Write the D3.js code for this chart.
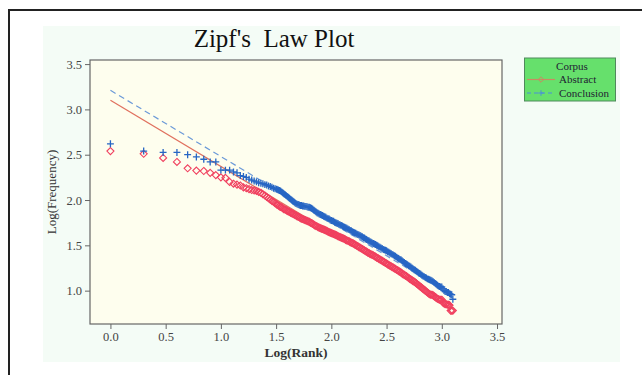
<!DOCTYPE html>
<html lang="en">
<head>
<meta charset="UTF-8">
<title>Zipf's Law Plot</title>
<script src="https://d3js.org/d3.v7.min.js"></script>
<style>
  body { margin: 0; background: #ffffff; }
  svg { display: block; }
  text { font-family: "Liberation Serif", "Times New Roman", serif; }
</style>
</head>
<body>
<svg width="642" height="375"></svg>
<script>
// Abstract corpus: [log10(rank), log10(frequency)]
const abstractPoints = [
  [0, 2.54], [0.301, 2.51], [0.477, 2.465], [0.602, 2.42], [0.699, 2.35], [0.778, 2.325], [0.845, 2.32], [0.903, 2.30], [0.954, 2.275],
  [1.0, 2.25], [1.041, 2.245], [1.079, 2.20], [1.114, 2.18], [1.146, 2.17], [1.176, 2.16], [1.204, 2.14], [1.23, 2.13], [1.255, 2.12],
  [1.279, 2.11], [1.301, 2.105], [1.322, 2.10], [1.342, 2.09], [1.362, 2.08], [1.38, 2.065], [1.398, 2.05], [1.415, 2.035], [1.431, 2.02],
  [1.447, 2.005], [1.462, 1.99], [1.477, 1.98], [1.491, 1.965], [1.505, 1.95],
  [1.51, 1.95], [1.52, 1.94], [1.53, 1.93], [1.54, 1.925], [1.55, 1.92], [1.56, 1.91], [1.57, 1.90], [1.58, 1.895], [1.59, 1.89], [1.60, 1.88],
  [1.61, 1.875], [1.62, 1.87], [1.63, 1.86], [1.64, 1.855], [1.65, 1.85], [1.66, 1.845], [1.67, 1.835], [1.68, 1.83], [1.69, 1.82], [1.70, 1.815],
  [1.71, 1.81], [1.72, 1.80], [1.73, 1.795], [1.74, 1.79], [1.75, 1.785], [1.76, 1.78], [1.77, 1.775], [1.78, 1.77], [1.79, 1.765], [1.80, 1.76],
  [1.81, 1.75], [1.82, 1.745], [1.83, 1.74], [1.84, 1.73], [1.85, 1.72], [1.86, 1.715], [1.87, 1.71], [1.88, 1.70], [1.89, 1.695], [1.90, 1.69],
  [1.91, 1.685], [1.92, 1.68], [1.93, 1.675], [1.94, 1.67], [1.95, 1.665], [1.96, 1.66], [1.97, 1.65], [1.98, 1.645], [1.99, 1.64], [2.00, 1.635],
  [2.01, 1.63], [2.02, 1.625], [2.03, 1.62], [2.04, 1.615], [2.05, 1.61], [2.06, 1.60], [2.07, 1.595], [2.08, 1.59], [2.09, 1.585], [2.10, 1.58],
  [2.11, 1.575], [2.12, 1.57], [2.13, 1.56], [2.14, 1.555], [2.15, 1.55], [2.16, 1.545], [2.17, 1.535], [2.18, 1.53], [2.19, 1.525], [2.20, 1.52],
  [2.21, 1.51], [2.22, 1.505], [2.23, 1.495], [2.24, 1.49], [2.25, 1.48], [2.26, 1.475], [2.27, 1.465], [2.28, 1.46], [2.29, 1.45], [2.30, 1.445],
  [2.31, 1.435], [2.32, 1.43], [2.33, 1.42], [2.34, 1.415], [2.35, 1.405], [2.36, 1.40], [2.37, 1.395], [2.38, 1.39], [2.39, 1.38], [2.40, 1.375],
  [2.41, 1.365], [2.42, 1.36], [2.43, 1.35], [2.44, 1.345], [2.45, 1.335], [2.46, 1.33], [2.47, 1.32], [2.48, 1.315], [2.49, 1.305], [2.50, 1.30],
  [2.51, 1.29], [2.52, 1.285], [2.53, 1.275], [2.54, 1.27], [2.55, 1.26], [2.56, 1.255], [2.57, 1.245], [2.58, 1.24], [2.59, 1.23], [2.60, 1.225],
  [2.61, 1.215], [2.62, 1.21], [2.63, 1.20], [2.64, 1.19], [2.65, 1.18], [2.66, 1.175], [2.67, 1.165], [2.68, 1.16], [2.69, 1.15], [2.70, 1.14],
  [2.71, 1.13], [2.72, 1.125], [2.73, 1.115], [2.74, 1.105], [2.75, 1.10], [2.76, 1.09], [2.77, 1.08], [2.78, 1.07], [2.79, 1.06], [2.80, 1.05],
  [2.81, 1.04], [2.82, 1.03], [2.83, 1.02], [2.84, 1.01], [2.85, 1.00], [2.86, 0.99], [2.87, 0.98], [2.88, 0.97], [2.89, 0.96], [2.90, 0.955],
  [2.91, 0.955], [2.92, 0.95], [2.93, 0.94], [2.94, 0.93], [2.95, 0.92], [2.96, 0.91], [2.97, 0.905], [2.98, 0.90], [2.99, 0.90], [3.00, 0.90],
  [3.01, 0.87], [3.02, 0.86], [3.03, 0.85], [3.04, 0.85], [3.05, 0.845], [3.06, 0.845], [3.07, 0.84], [3.08, 0.78], [3.09, 0.78], [3.10, 0.78]
];

// Conclusion corpus
const conclusionPoints = [
  [0, 2.62], [0.301, 2.54], [0.477, 2.525], [0.602, 2.525], [0.699, 2.50], [0.778, 2.475], [0.845, 2.45], [0.903, 2.42], [0.954, 2.42],
  [1.0, 2.33], [1.041, 2.33], [1.079, 2.33], [1.114, 2.31], [1.146, 2.30], [1.176, 2.27], [1.204, 2.26], [1.23, 2.25], [1.255, 2.23],
  [1.279, 2.22], [1.301, 2.21], [1.322, 2.20], [1.342, 2.19], [1.362, 2.185], [1.38, 2.18], [1.398, 2.17], [1.415, 2.165], [1.431, 2.155],
  [1.447, 2.15], [1.462, 2.14], [1.477, 2.13], [1.491, 2.125], [1.505, 2.12],
  [1.51, 2.115], [1.52, 2.11], [1.53, 2.105], [1.54, 2.10], [1.55, 2.09], [1.56, 2.08], [1.57, 2.07], [1.58, 2.06], [1.59, 2.05], [1.60, 2.04],
  [1.61, 2.03], [1.62, 2.02], [1.63, 2.01], [1.64, 2.00], [1.65, 1.99], [1.66, 1.98], [1.67, 1.97], [1.68, 1.96], [1.69, 1.955], [1.70, 1.95],
  [1.71, 1.945], [1.72, 1.94], [1.73, 1.94], [1.74, 1.935], [1.75, 1.935], [1.76, 1.93], [1.77, 1.93], [1.78, 1.925], [1.79, 1.92], [1.80, 1.92],
  [1.81, 1.915], [1.82, 1.91], [1.83, 1.90], [1.84, 1.89], [1.85, 1.88], [1.86, 1.87], [1.87, 1.86], [1.88, 1.855], [1.89, 1.845], [1.90, 1.84],
  [1.91, 1.835], [1.92, 1.83], [1.93, 1.82], [1.94, 1.815], [1.95, 1.81], [1.96, 1.80], [1.97, 1.795], [1.98, 1.79], [1.99, 1.78], [2.00, 1.775],
  [2.01, 1.77], [2.02, 1.765], [2.03, 1.755], [2.04, 1.75], [2.05, 1.745], [2.06, 1.74], [2.07, 1.73], [2.08, 1.725], [2.09, 1.72], [2.10, 1.715],
  [2.11, 1.705], [2.12, 1.70], [2.13, 1.695], [2.14, 1.69], [2.15, 1.68], [2.16, 1.675], [2.17, 1.665], [2.18, 1.66], [2.19, 1.65], [2.20, 1.645],
  [2.21, 1.64], [2.22, 1.635], [2.23, 1.625], [2.24, 1.62], [2.25, 1.615], [2.26, 1.61], [2.27, 1.60], [2.28, 1.595], [2.29, 1.585], [2.30, 1.58],
  [2.31, 1.57], [2.32, 1.565], [2.33, 1.555], [2.34, 1.55], [2.35, 1.54], [2.36, 1.535], [2.37, 1.525], [2.38, 1.52], [2.39, 1.515], [2.40, 1.51],
  [2.41, 1.50], [2.42, 1.495], [2.43, 1.485], [2.44, 1.48], [2.45, 1.47], [2.46, 1.465], [2.47, 1.455], [2.48, 1.45], [2.49, 1.445], [2.50, 1.44],
  [2.51, 1.43], [2.52, 1.425], [2.53, 1.415], [2.54, 1.41], [2.55, 1.40], [2.56, 1.395], [2.57, 1.385], [2.58, 1.38], [2.59, 1.37], [2.60, 1.36],
  [2.61, 1.355], [2.62, 1.345], [2.63, 1.34], [2.64, 1.33], [2.65, 1.32], [2.66, 1.31], [2.67, 1.30], [2.68, 1.295], [2.69, 1.285], [2.70, 1.275],
  [2.71, 1.27], [2.72, 1.26], [2.73, 1.25], [2.74, 1.24], [2.75, 1.23], [2.76, 1.225], [2.77, 1.215], [2.78, 1.205], [2.79, 1.195], [2.80, 1.19],
  [2.81, 1.18], [2.82, 1.17], [2.83, 1.16], [2.84, 1.155], [2.85, 1.145], [2.86, 1.14], [2.87, 1.13], [2.88, 1.125], [2.89, 1.12], [2.90, 1.115],
  [2.91, 1.11], [2.92, 1.10], [2.93, 1.09], [2.94, 1.08], [2.95, 1.07], [2.96, 1.06], [2.97, 1.05], [2.98, 1.045], [2.99, 1.04], [3.00, 1.04],
  [3.01, 1.02], [3.02, 1.00], [3.03, 0.99], [3.04, 0.99], [3.05, 0.98], [3.06, 0.98], [3.07, 0.965], [3.08, 0.96], [3.09, 0.955], [3.10, 0.905]
];

// fitted Zipf lines: end points [x, y]
const abstractFit = [[0, 3.10], [3.10, 0.837]];
const conclusionFit = [[0, 3.21], [3.10, 0.947]];

const xTicks = [0.0, 0.5, 1.0, 1.5, 2.0, 2.5, 3.0, 3.5];
const yTicks = [1.0, 1.5, 2.0, 2.5, 3.0, 3.5];

const svg = d3.select("svg");

// 바깥 테두리 (위, 왼쪽)
svg.append("path")
    .attr("d", "M9,375 V10 H642")
    .attr("fill", "none")
    .attr("stroke", "#222")
    .attr("stroke-width", 2);

// 배경 패널
svg.append("rect")
    .attr("x", 43).attr("y", 26)
    .attr("width", 577).attr("height", 336)
    .attr("fill", "#f4fcf6");

const plot = { left: 90, right: 502, top: 60, bottom: 324 };

const xScale = d3.scaleLinear().domain([-0.185, 3.545]).range([plot.left, plot.right]);
const yScale = d3.scaleLinear().domain([0.632, 3.545]).range([plot.bottom, plot.top]);

svg.append("rect")
    .attr("x", plot.left).attr("y", plot.top)
    .attr("width", plot.right - plot.left).attr("height", plot.bottom - plot.top)
    .attr("fill", "#fefeee");

// axes
const xAxis = svg.append("g")
    .attr("transform", `translate(0,${plot.bottom})`)
    .call(d3.axisBottom(xScale).tickValues(xTicks).tickFormat(d3.format(".1f")).tickSize(5).tickSizeOuter(0));
const yAxis = svg.append("g")
    .attr("transform", `translate(${plot.left},0)`)
    .call(d3.axisLeft(yScale).tickValues(yTicks).tickFormat(d3.format(".1f")).tickSize(5).tickSizeOuter(0));

[xAxis, yAxis].forEach(a => {
    a.select(".domain").remove();
    a.selectAll("line").attr("stroke", "#666");
    a.selectAll("text")
        .style("font-family", "'Liberation Serif', serif")
        .style("font-size", "12.5px")
        .attr("fill", "#444");
});

// frame
svg.append("rect")
    .attr("x", plot.left).attr("y", plot.top)
    .attr("width", plot.right - plot.left).attr("height", plot.bottom - plot.top)
    .attr("fill", "none")
    .attr("stroke", "#666")
    .attr("stroke-width", 1.2);

const diamond = { draw(ctx, size) { const r = Math.sqrt(size) / 2; ctx.moveTo(0, -r); ctx.lineTo(r, 0); ctx.lineTo(0, r); ctx.lineTo(-r, 0); ctx.closePath(); } };
const plus = { draw(ctx, size) { const r = Math.sqrt(size) / 2; ctx.moveTo(-r, 0); ctx.lineTo(r, 0); ctx.moveTo(0, -r); ctx.lineTo(0, r); } };

const line = d3.line().x(d => xScale(d[0])).y(d => yScale(d[1]));

// fitted lines
svg.append("path")
    .attr("d", line(abstractFit))
    .attr("fill", "none")
    .attr("stroke", "#e0705e")
    .attr("stroke-width", 1.2);
svg.append("path")
    .attr("d", line(conclusionFit))
    .attr("fill", "none")
    .attr("stroke", "#6c9ad8")
    .attr("stroke-width", 1.2)
    .attr("stroke-dasharray", "6,4");

svg.append("g").selectAll("path")
    .data(abstractPoints)
    .enter()
    .append("path")
    .attr("transform", d => `translate(${xScale(d[0])},${yScale(d[1])})`)
    .attr("d", d3.symbol(diamond, 50))
    .attr("fill", "none")
    .attr("stroke", "#f0405f")
    .attr("stroke-width", 1.1);

svg.append("g").selectAll("path")
    .data(conclusionPoints)
    .enter()
    .append("path")
    .attr("transform", d => `translate(${xScale(d[0])},${yScale(d[1])})`)
    .attr("d", d3.symbol(plus, 48))
    .attr("fill", "none")
    .attr("stroke", "#2766c4")
    .attr("stroke-width", 1.3);

// title
svg.append("text")
    .attr("x", 274)
    .attr("y", 47)
    .attr("text-anchor", "middle")
    .style("white-space", "pre")
    .style("font-size", "25px")
    .attr("fill", "#111")
    .text("Zipf's  Law Plot");

// axis labels
svg.append("text")
    .attr("x", (plot.left + plot.right) / 2)
    .attr("y", 357)
    .attr("text-anchor", "middle")
    .style("font-size", "13.5px")
    .style("font-weight", "bold")
    .attr("fill", "#333")
    .text("Log(Rank)");

svg.append("text")
    .attr("transform", "rotate(-90)")
    .attr("x", -(plot.top + plot.bottom) / 2)
    .attr("y", 56)
    .attr("text-anchor", "middle")
    .style("font-size", "13px")
    .attr("fill", "#333")
    .text("Log(Frequency)");

// legend
const lg = svg.append("g");
lg.append("rect")
    .attr("x", 524.5).attr("y", 58)
    .attr("width", 91).attr("height", 43)
    .attr("fill", "#66e06c")
    .attr("stroke", "#4f8a5c")
    .attr("stroke-width", 1);
lg.append("text")
    .attr("x", 572).attr("y", 69.5)
    .attr("text-anchor", "middle")
    .style("font-size", "11px")
    .attr("fill", "#223")
    .text("Corpus");
const legendItems = [
    { name: "Abstract", y: 79.5, color: "#c98a62", dash: null, sym: diamond },
    { name: "Conclusion", y: 93, color: "#4a90d8", dash: "4,3", sym: plus }
];
legendItems.forEach(it => {
    lg.append("line")
        .attr("x1", 527).attr("x2", 555)
        .attr("y1", it.y).attr("y2", it.y)
        .attr("stroke", it.color)
        .attr("stroke-width", 1.2)
        .attr("stroke-dasharray", it.dash);
    lg.append("path")
        .attr("transform", `translate(541,${it.y})`)
        .attr("d", d3.symbol(it.sym, 30))
        .attr("fill", "none")
        .attr("stroke", it.color)
        .attr("stroke-width", 1);
    lg.append("text")
        .attr("x", 559).attr("y", it.y + 3.5)
        .style("font-size", "11px")
        .attr("fill", "#223")
        .text(it.name);
});
</script>
</body>
</html>
